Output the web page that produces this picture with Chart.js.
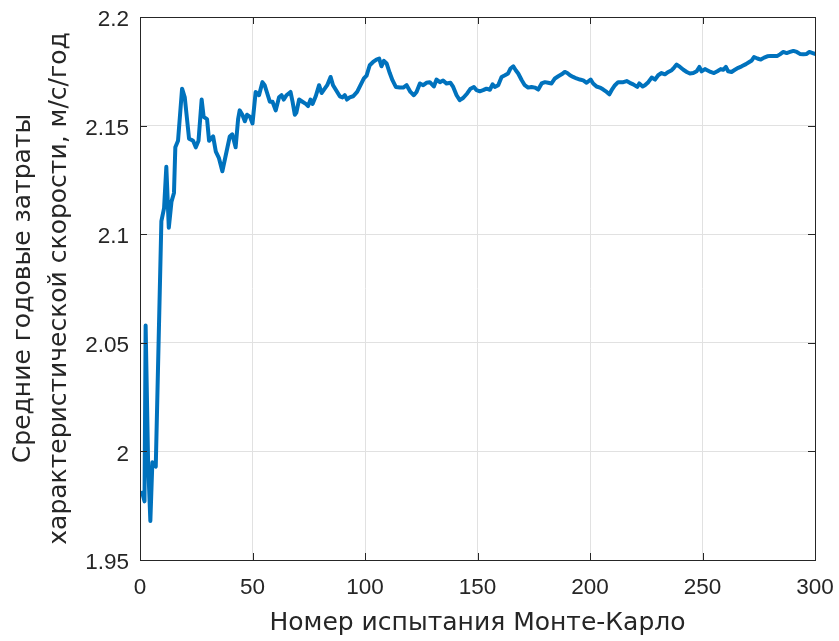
<!DOCTYPE html>
<html><head><meta charset="utf-8">
<script src="https://cdn.jsdelivr.net/npm/chart.js@4"></script>
<style>html,body{margin:0;padding:0;background:#fff;} canvas{display:block;}</style>
</head><body>
<canvas id="c" width="839" height="641"></canvas>
<script>
// Trial number (Monte-Carlo run) and running mean of annual delta-v cost
const trials = [1,2,2.5,3.6,4.6,5.5,7,9.5,10.7,11.7,12.8,14,15.1,15.7,16.9,18.7,19.9,21.8,23.6,24.8,26,27.4,28.3,29.8,30.7,32.5,33.7,35.1,36.6,39.9,41,42.5,43.6,
44.3,45.5,46.6,47.6,48.9,50,51.4,52.9,54.4,55.4,56.5,57.7,58.9,60.3,61.8,62.9,63.9,65.1,66.9,67.8,68.8,69.5,70.7,72.2,73.7,74.7,75.8,76.7,78.1,79.6,80.7,82.1,83.2,84.7,85.8,87.3,88.8,90,91,92,93.2,94.7,96.5,98,99.5,100.7,102.1,103.6,105.1,106.3,107.3,108.4,109.6,111,112.2,113.7,115.5,117,118.5,120.2,121.7,122.9,124.4,125.9,127.3,128.8,
130.6,131.8,133.3,134.7,136.2,138,139.2,140.7,142.1,143.6,145.4,146.9,148.4,149.6,151,152.5,154,155.5,156.7,157.7,159.2,160.7,162.2,163.6,164.7,165.9,167,168.1,169.6,171,172.5,174,175.5,177,178.5,180,181.4,182.9,184.4,185.9,187.4,188.8,189.9,191.1,192.5,194,195.5,197,198.5,200.3,201.4,202.9,204.4,205.9,207.4,208.6,209.6,211.1,212.5,
214.8,216.3,217.7,219.2,221,221.9,223.4,224.4,225.9,227.4,228.9,230.3,231.8,233.3,234.8,236.3,237.3,238.5,240,241.5,243,244.4,245.9,247.4,248.6,249.6,251.1,252.1,253.6,255.1,256.6,258.1,259.2,260.4,261.4,262.9,264.4,265.9,267.4,269.3,270.8,271.9,272.9,274.4,275.9,277.4,278.8,280.3,281.8,283.3,284.4,285.9,287.4,288.9,290.4,291.9,293.3,294.8,296.3,297.5,299,300];
const avgCost = [1.981,1.977,2.058,1.995,1.968,1.995,1.993,2.106,2.112,2.131,2.103,2.115,2.119,2.140,2.143,2.167,2.163,2.144,2.143,2.140,2.143,2.162,2.154,2.153,2.143,2.145,2.138,2.135,2.129,2.145,2.146,2.140,2.153,
2.157,2.155,2.152,2.155,2.154,2.151,2.1655,2.164,2.170,2.1686,2.165,2.161,2.161,2.157,2.163,2.164,2.162,2.164,2.1655,2.161,2.155,2.156,2.162,2.161,2.160,2.159,2.162,2.160,2.1635,2.1686,2.165,2.167,2.1686,2.1724,2.1686,2.166,2.1635,2.163,2.164,2.162,2.163,2.1635,2.1655,2.1686,2.1717,2.173,2.1778,2.1793,2.1804,2.1809,2.1773,2.1798,2.1786,2.1742,2.1709,2.1678,2.1675,2.1675,2.1686,2.1655,2.164,2.1655,2.1694,2.1686,2.1697,2.170,
2.168,2.1712,2.170,2.1708,2.1694,2.1697,2.1678,2.164,2.1617,2.1627,2.1648,2.167,2.1678,2.1663,2.1658,2.1663,2.167,2.1665,2.169,2.1678,2.1686,2.1724,2.1732,2.174,2.1763,2.1773,2.1755,2.174,2.171,2.1686,2.1675,2.1678,2.1675,2.1666,2.1694,2.170,2.1697,2.1694,2.1717,2.1727,2.1736,2.1747,2.1742,2.1732,2.1724,2.1717,2.1712,2.1708,2.1697,2.1712,2.1694,2.168,2.1675,2.1666,2.1655,2.1644,2.1663,2.1686,2.170,
2.170,2.1705,2.1697,2.169,2.1678,2.1694,2.168,2.1686,2.170,2.1721,2.1712,2.1732,2.1742,2.1736,2.1747,2.1755,2.1766,2.1781,2.177,2.1757,2.1747,2.174,2.1742,2.175,2.177,2.175,2.176,2.1755,2.1747,2.1742,2.175,2.176,2.1757,2.177,2.175,2.1747,2.1757,2.1766,2.1773,2.1783,2.1793,2.180,2.1816,2.1809,2.1804,2.1813,2.1819,2.1821,2.1821,2.1821,2.1828,2.1839,2.1834,2.1839,2.1844,2.1839,2.183,2.1828,2.183,2.1839,2.1834,2.183];

const xTickValues = [0,50,100,150,200,250,300];
const xTickLabels = ['0','50','100','150','200','250','300'];
const yTickValues = [1.95,2,2.05,2.1,2.15,2.2];
const yTickLabels = ['1.95','2','2.05','2.1','2.15','2.2'];
const xTitle = 'Номер испытания Монте-Карло';
const yTitle = ['Средние годовые затраты','характеристической скорости, м/с/год'];

const TICK_FONT = "'Liberation Sans', Arial, Helvetica, sans-serif";
const TITLE_FONT = "'DejaVu Sans', 'Liberation Sans', sans-serif";
const TXT = '#262626';

const boxPlugin = {
  id: 'box',
  afterDraw(chart) {
    const {ctx, chartArea: a, scales: {x, y}} = chart;
    const L = 7;
    ctx.save();
    ctx.strokeStyle = '#262626';
    ctx.lineWidth = 1;
    ctx.beginPath();
    x.ticks.forEach(t => {
      const px = Math.round(x.getPixelForValue(t.value)) + 0.5;
      ctx.moveTo(px, a.bottom); ctx.lineTo(px, a.bottom - L);
      ctx.moveTo(px, a.top); ctx.lineTo(px, a.top + L);
    });
    y.ticks.forEach(t => {
      const py = Math.round(y.getPixelForValue(t.value)) + 0.5;
      ctx.moveTo(a.left, py); ctx.lineTo(a.left + L, py);
      ctx.moveTo(a.right, py); ctx.lineTo(a.right - L, py);
    });
    ctx.stroke();
    ctx.strokeRect(Math.round(a.left) + 0.5, Math.round(a.top) + 0.5,
                   Math.round(a.right - a.left), Math.round(a.bottom - a.top));
    ctx.restore();
  }
};

new Chart(document.getElementById('c'), {
  type: 'line',
  data: {
    datasets: [{
      data: trials.map((t, i) => ({x: t, y: avgCost[i]})),
      borderColor: '#0072BD',
      borderWidth: 4,
      pointRadius: 0,
      tension: 0,
      borderJoinStyle: 'round',
      borderCapStyle: 'round',
      fill: false
    }]
  },
  options: {
    responsive: false,
    animation: false,
    events: [],
    layout: {padding: {left: 0, right: 24, top: 17, bottom: 0}},
    plugins: {legend: {display: false}, tooltip: {enabled: false}},
    scales: {
      x: {
        type: 'linear',
        min: 0, max: 300,
        afterFit(s) { s.height = 81; s.paddingLeft = 0; s.paddingRight = 0; },
        afterBuildTicks(s) { s.ticks = xTickValues.map(v => ({value: v})); },
        grid: {color: '#e1e1e1', lineWidth: 1, drawTicks: false},
        border: {display: false},
        ticks: {
          padding: 14, color: TXT, maxRotation: 0,
          font: {family: TICK_FONT, size: 22.5},
          callback: (v) => xTickLabels[xTickValues.indexOf(v)]
        },
        title: {
          display: true, text: xTitle, color: TXT,
          font: {family: TITLE_FONT, size: 25, lineHeight: 1.2},
          padding: {top: 0, bottom: 3}
        }
      },
      y: {
        type: 'linear',
        min: 1.95, max: 2.2,
        afterFit(s) { s.width = 140; s.paddingTop = 0; s.paddingBottom = 0; },
        afterBuildTicks(s) { s.ticks = yTickValues.map(v => ({value: v})); },
        grid: {color: '#e1e1e1', lineWidth: 1, drawTicks: false},
        border: {display: false},
        ticks: {
          padding: 11, color: TXT, labelOffset: 3,
          font: {family: TICK_FONT, size: 22.5},
          callback: (v) => yTickLabels[yTickValues.indexOf(v)]
        },
        title: {
          display: true, text: yTitle, color: TXT,
          font: {family: TITLE_FONT, size: 25, lineHeight: 1.45},
          padding: {top: 5, bottom: 0}
        }
      }
    }
  },
  plugins: [boxPlugin]
});
</script>
</body></html>
